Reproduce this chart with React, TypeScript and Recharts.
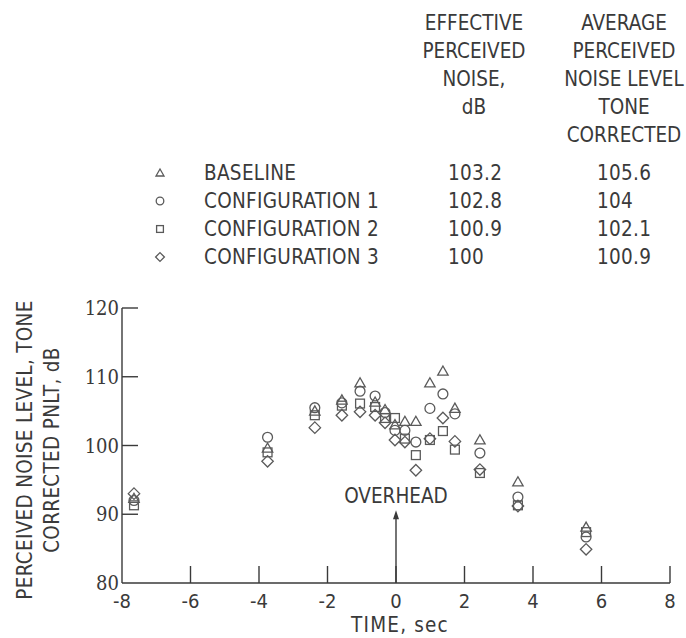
import { ScatterChart, Scatter, XAxis, YAxis, ReferenceLine } from "recharts";

// times (sec) shared by every configuration
const TIMES = [-7.65, -3.75, -2.37, -1.58, -1.05, -0.61, -0.32, -0.03, 0.26, 0.58, 0.99, 1.37, 1.72, 2.45, 3.56, 5.55];
const BASELINE = [92.3, 99.6, 105.0, 106.6, 109.1, 106.3, 105.2, 103.0, 103.5, 103.5, 109.1, 110.8, 105.4, 100.8, 94.7, 88.1];
const CONFIG_1 = [92.0, 101.2, 105.5, 106.2, 107.9, 107.2, 104.8, 102.2, 102.2, 100.5, 105.4, 107.5, 104.6, 98.9, 92.5, 86.7];
const CONFIG_2 = [91.3, 99.0, 104.4, 105.8, 106.1, 105.6, 104.0, 104.0, 101.0, 98.6, 100.8, 102.1, 99.4, 96.0, 91.3, 87.4];
const CONFIG_3 = [93.0, 97.7, 102.6, 104.4, 104.9, 104.4, 103.3, 100.8, 100.5, 96.4, 101.0, 104.0, 100.6, 96.5, 91.2, 84.9];

const LEGEND_NAMES = ["BASELINE", "CONFIGURATION 1", "CONFIGURATION 2", "CONFIGURATION 3"];
const EPN_DB = ["103.2", "102.8", "100.9", "100"];
const AVG_PNLT = ["105.6", "104", "102.1", "100.9"];
const SHAPES = ["triangle", "circle", "square", "diamond"];

const X_TICKS = [-8, -6, -4, -2, 0, 2, 4, 6, 8];
const Y_TICKS = [80, 90, 100, 110, 120];
const OVERHEAD_TIP = 90.6;

const INK = "#3a3a3a";
const MARK = "#5a5a5a";
const SANS = "'DejaVu Sans Condensed', 'Liberation Sans Narrow', 'DejaVu Sans', sans-serif";
const SERIF = "'DejaVu Serif Condensed', 'Liberation Serif', serif";
const FS = 20.5;

const toPoints = (vals: number[]) => TIMES.map((t, i) => ({ x: t, y: vals[i] }));

function Marker({ kind, cx, cy, s = 5.2 }: { kind: string; cx: number; cy: number; s?: number }) {
  const common = { fill: "none", stroke: MARK, strokeWidth: 1.3 };
  if (kind === "circle") return <circle cx={cx} cy={cy} r={s * 0.95} {...common} />;
  if (kind === "square")
    return <rect x={cx - s * 0.85} y={cy - s * 0.85} width={s * 1.7} height={s * 1.7} {...common} />;
  if (kind === "diamond")
    return <path d={`M${cx},${cy - s * 1.1}L${cx + s * 1.1},${cy}L${cx},${cy + s * 1.1}L${cx - s * 1.1},${cy}Z`} {...common} />;
  return <path d={`M${cx},${cy - s}L${cx + s},${cy + s * 0.75}L${cx - s},${cy + s * 0.75}Z`} {...common} />;
}

function XTick({ x, y, payload }: any) {
  return (
    <g>
      {payload.value !== -8 && <line x1={x} y1={y} x2={x} y2={y - 17} stroke={INK} strokeWidth={1.4} />}
      <text x={x} y={y + 25} textAnchor="middle" fontFamily={SANS} fontSize={20} fill={INK}>
        {payload.value}
      </text>
    </g>
  );
}

function YTick({ x, y, payload }: any) {
  return (
    <g>
      {payload.value !== 80 && <line x1={x} y1={y} x2={x + 16} y2={y} stroke={INK} strokeWidth={1.4} />}
      <text x={x - 3} y={y + 7} textAnchor="end" fontFamily={SERIF} fontSize={20} fill={INK}>
        {payload.value}
      </text>
    </g>
  );
}

function OverheadArrow({ x1, y1, x2, y2 }: any) {
  const top = Math.min(y1, y2);
  const bottom = Math.max(y1, y2);
  return (
    <g>
      <line x1={x1} y1={bottom} x2={x1} y2={top + 6} stroke={INK} strokeWidth={1.4} />
      <path d={`M${x1},${top}L${x1 + 3},${top + 9}L${x1 - 3},${top + 9}Z`} fill={INK} />
      <text x={x1} y={top - 7} textAnchor="middle" fontFamily={SANS} fontSize={FS} fill={INK}>
        OVERHEAD
      </text>
    </g>
  );
}

const text = (extra: any) => ({
  position: "absolute" as const,
  fontFamily: SANS,
  fontSize: FS,
  color: INK,
  lineHeight: "22px",
  whiteSpace: "nowrap" as const,
  ...extra,
});

const HEAD_1 = ["EFFECTIVE", "PERCEIVED", "NOISE,", "dB"];
const HEAD_2 = ["AVERAGE", "PERCEIVED", "NOISE LEVEL", "TONE", "CORRECTED"];
const HEAD_Y = [23, 51, 79, 107, 135];
const ROW_Y = [173, 201, 229, 257];

export default function App() {
  const series = [BASELINE, CONFIG_1, CONFIG_2, CONFIG_3];
  return (
    <div style={{ position: "absolute", left: 0, top: 0, width: 686, height: 638, background: "#fff" }}>
      {HEAD_1.map((s, i) => (
        <div key={"h1" + i} style={text({ left: 414, width: 120, textAlign: "center", top: HEAD_Y[i] - 11 })}>{s}</div>
      ))}
      {HEAD_2.map((s, i) => (
        <div key={"h2" + i} style={text({ left: 559, width: 130, textAlign: "center", top: HEAD_Y[i] - 11 })}>{s}</div>
      ))}
      {LEGEND_NAMES.map((name, i) => (
        <div key={name}>
          <svg style={{ position: "absolute", left: 150, top: ROW_Y[i] - 10 }} width={20} height={20}>
            <Marker kind={SHAPES[i]} cx={10} cy={10} s={4} />
          </svg>
          <div style={text({ left: 204, top: ROW_Y[i] - 11, letterSpacing: 0.3 })}>{name}</div>
          <div style={text({ left: 448, top: ROW_Y[i] - 11, letterSpacing: 0.3 })}>{EPN_DB[i]}</div>
          <div style={text({ left: 597, top: ROW_Y[i] - 11, letterSpacing: 0.3 })}>{AVG_PNLT[i]}</div>
        </div>
      ))}
      <div style={text({ left: 25, top: 450, transform: "translate(-50%, -50%) rotate(-90deg)", letterSpacing: 0.3 })}>
        PERCEIVED NOISE LEVEL, TONE
      </div>
      <div style={text({ left: 52, top: 450, transform: "translate(-50%, -50%) rotate(-90deg)", letterSpacing: 0.3 })}>
        CORRECTED PNLT, dB
      </div>
      <div style={text({ left: 400, top: 614, transform: "translateX(-50%)", letterSpacing: 1.2 })}>TIME, sec</div>

      <ScatterChart width={686} height={638} margin={{ top: 308, right: 16, bottom: 25, left: 72 }}>
        <XAxis
          type="number"
          dataKey="x"
          domain={[-8, 8]}
          ticks={X_TICKS}
          height={30}
          tickSize={0}
          tickMargin={0}
          tickLine={false}
          axisLine={{ stroke: INK, strokeWidth: 1.4 }}
          tick={(p: any) => <XTick {...p} />}
        />
        <YAxis
          type="number"
          dataKey="y"
          domain={[80, 120]}
          ticks={Y_TICKS}
          width={50}
          tickSize={0}
          tickMargin={0}
          tickLine={false}
          axisLine={{ stroke: INK, strokeWidth: 1.4 }}
          tick={(p: any) => <YTick {...p} />}
        />
        <ReferenceLine
          segment={[{ x: 0, y: 80 }, { x: 0, y: OVERHEAD_TIP }]}
          shape={(p: any) => <OverheadArrow {...p} />}
        />
        {series.map((vals, i) => (
          <Scatter
            key={LEGEND_NAMES[i]}
            name={LEGEND_NAMES[i]}
            data={toPoints(vals)}
            isAnimationActive={false}
            shape={(p: any) => <Marker kind={SHAPES[i]} cx={p.cx} cy={p.cy} />}
          />
        ))}
      </ScatterChart>
    </div>
  );
}
